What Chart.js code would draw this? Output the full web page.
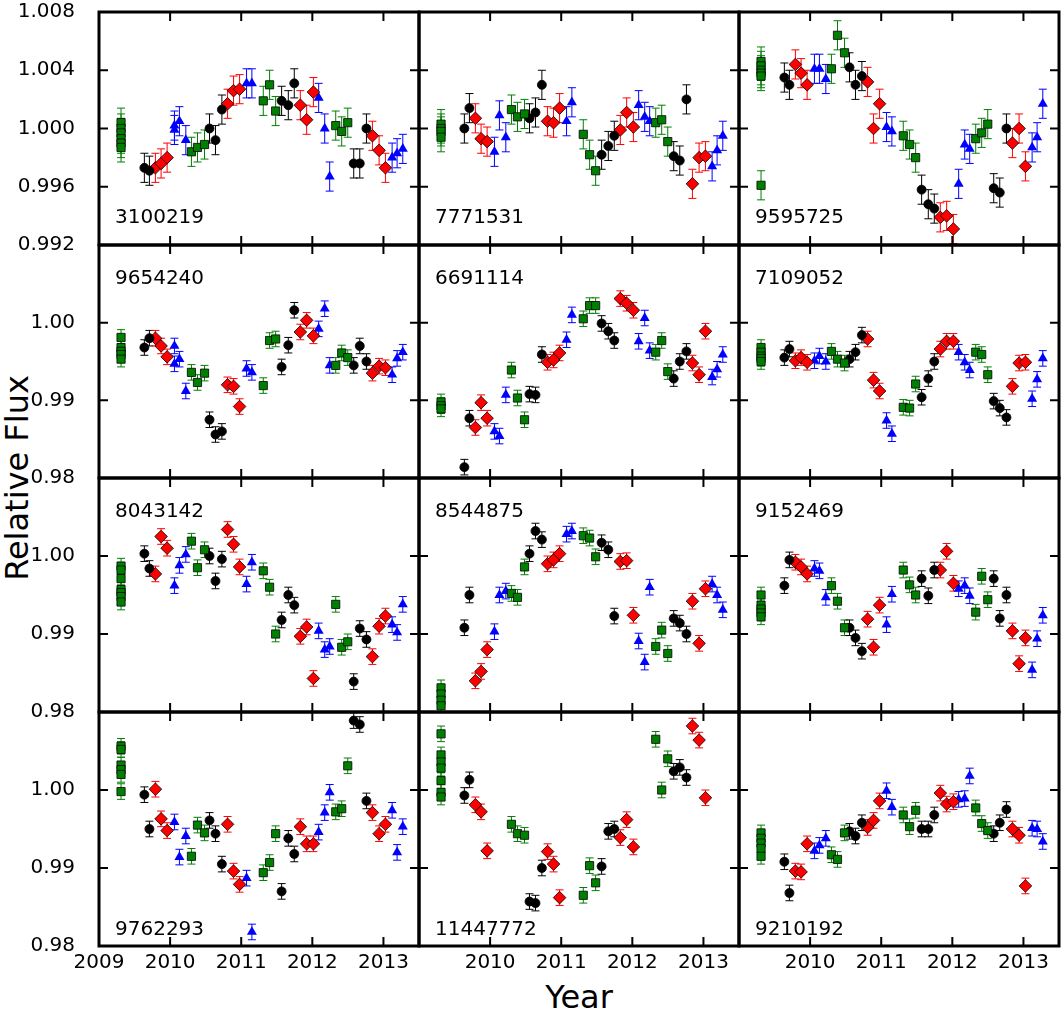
<!DOCTYPE html>
<html lang="en">
<head>
<meta charset="UTF-8">
<title>Relative flux, 12 stars</title>
<style>
  body { margin: 0; background: #fff; font-family: 'DejaVu Sans', sans-serif; }
  #fig { position: relative; width: 1062px; height: 1011px; overflow: hidden; background: #fff; }
  #fig canvas { position: absolute; }
  .axis-title { position: absolute; font-size: 32px; color: #000; white-space: nowrap; line-height: 1; }
  #ylab { left: 17px; top: 478px; transform: translate(-50%, -50%) rotate(-90deg); }
  #xlab { left: 579px; top: 997px; transform: translate(-50%, -50%); }
</style>
<script src="https://cdn.jsdelivr.net/npm/chart.js"></script>
</head>
<body>
<div id="fig">
  <div id="ylab" class="axis-title">Relative Flux</div>
  <div id="xlab" class="axis-title">Year</div>
</div>
<script>
// monthly points: time (year) and the quarter colour group they belong to
const monthTimes = [2009.638, 2009.709, 2009.793, 2009.873, 2009.958,
  2010.061, 2010.061, 2010.131, 2010.221, 2010.300, 2010.385, 2010.484,
  2010.554, 2010.638, 2010.728, 2010.808, 2010.892, 2010.977,
  2011.075, 2011.150, 2011.235, 2011.310, 2011.399, 2011.484,
  2011.568, 2011.662, 2011.746, 2011.831, 2011.920, 2012.015,
  2012.089, 2012.174, 2012.244, 2012.329, 2012.413, 2012.498,
  2012.582, 2012.667, 2012.761, 2012.845, 2012.939, 2013.028,
  2013.122, 2013.192, 2013.272];
const monthGroup = ['k','k', 'r','r','r', 'b','b','b','b', 'g','g','g',
  'k','k','k', 'r','r','r', 'b','b','b', 'g','g','g',
  'k','k','k', 'r','r','r', 'b','b','b', 'g','g','g',
  'k','k','k', 'r','r','r', 'b','b','b'];
const q1Time = 2009.31;
const fluxErr = 0.001;

const xTicks = [2009, 2010, 2011, 2012, 2013];
const yTicksTop = [0.992, 0.996, 1.000, 1.004, 1.008];
const yTicksLow = [0.98, 0.99, 1.00];

const panelIds = ['3100219', '7771531', '9595725', '9654240', '6691114', '7109052',
  '8043142', '8544875', '9152469', '9762293', '11447772', '9210192'];

// Q1 points (all at q1Time), then the 45 monthly values (null = no point)
const q3100219 = [1.0004, 1.0000, 0.9997, 0.9993, 0.9990, 0.9987];
const f3100219 = [0.9973, 0.9971, 0.9973, 0.9976, 0.9980, 1.0002, 0.9999, 1.0005, 0.9992,
  0.9984, 0.9987, 0.9989, 1.0000, 0.9992, 1.0013, 1.0017, 1.0026, 1.0027,
  1.0031, 1.0031, null, 1.0019, 1.0030, 1.0012, 1.0019, 1.0016, 1.0031,
  1.0016, 1.0006, 1.0025, 1.0021, 1.0000, 0.9967, 1.0002, 0.9998, 1.0004,
  0.9976, 0.9976, 1.0000, 0.9995, 0.9985, 0.9973, 0.9980, 0.9983, 0.9986];

const q7771531 = [1.0003, 1.0000, 0.9998, 0.9994];
const f7771531 = [1.0000, 1.0014, 1.0007, 0.9993, 0.9991, 0.9984, null, 1.0009, 0.9994,
  1.0013, 1.0008, 1.0010, 1.0007, 1.0011, 1.0030, 1.0005, 1.0004, 1.0014,
  1.0005, 1.0018, null, 0.9996, 0.9982, 0.9971, 0.9982, 0.9988, 0.9995,
  0.9999, 1.0011, 1.0001, 1.0016, 1.0008, 1.0005, 1.0004, 1.0006, 0.9991,
  0.9981, 0.9978, 1.0020, 0.9962, 0.9980, 0.9981, 0.9974, 0.9985, 0.9995];

const q9595725 = [1.0046, 1.0043, 1.0040, 1.0038, 1.0036, 0.9961];
const f9595725 = [1.0035, 1.0030, 1.0044, 1.0038, 1.0030, 1.0041, null, 1.0041, 1.0034,
  1.0041, 1.0064, 1.0052, 1.0042, 1.0030, 1.0036, 1.0032, 1.0000, 1.0017,
  1.0001, 0.9998, null, 0.9995, 0.9989, 0.9980, 0.9958, 0.9948, 0.9945,
  0.9939, 0.9940, 0.9931, 0.9962, 0.9989, 0.9986, 0.9993, 0.9997, 1.0003,
  0.9959, 0.9956, 1.0000, 0.9990, 1.0000, 0.9974, 0.9987, 0.9994, 1.0017];

const q9654240 = [0.9981, 0.9968, 0.9963, 0.9959, 0.9953];
const f9654240 = [0.9968, 0.9980, 0.9980, 0.9970, 0.9956, 0.9970, 0.9947, 0.9953, 0.9912,
  0.9936, 0.9923, 0.9935, 0.9875, 0.9856, 0.9860, 0.9920, 0.9918, 0.9892,
  0.9941, 0.9936, null, 0.9919, 0.9977, 0.9979, 0.9943, 0.9971, 1.0016,
  0.9988, 1.0003, 0.9983, 0.9992, 1.0018, 0.9945, 0.9945, 0.9961, 0.9955,
  0.9945, 0.9970, 0.9950, 0.9935, 0.9944, 0.9942, 0.9933, 0.9954, 0.9962];

const q6691114 = [0.9898, 0.9893, 0.9889];
const f6691114 = [0.9814, 0.9877, 0.9865, 0.9897, 0.9877, 0.9860, null, 0.9854, 0.9907,
  0.9939, 0.9903, 0.9875, 0.9908, 0.9907, 0.9959, 0.9949, 0.9952, 0.9961,
  0.9978, 1.0010, null, 1.0005, 1.0022, 1.0022, 0.9999, 0.9989, 0.9977,
  1.0031, 1.0025, 1.0016, 0.9976, 1.0006, 0.9964, 0.9962, 0.9977, 0.9937,
  0.9928, 0.9950, 0.9963, 0.9948, 0.9933, 0.9989, 0.9930, 0.9940, 0.9959];

const q7109052 = [0.9968, 0.9962, 0.9957, 0.9954, 0.9950];
const f7109052 = [0.9955, 0.9966, 0.9951, 0.9955, 0.9949, 0.9951, null, 0.9957, 0.9950,
  0.9963, 0.9953, 0.9948, 0.9953, 0.9962, 0.9984, 0.9979, 0.9926, 0.9912,
  0.9874, 0.9857, null, 0.9891, 0.9890, 0.9921, 0.9904, 0.9928, 0.9950,
  0.9966, 0.9976, 0.9976, 0.9962, 0.9949, 0.9939, 0.9962, 0.9959, 0.9933,
  0.9899, 0.9890, 0.9878, 0.9918, 0.9948, 0.9949, 0.9902, 0.9927, 0.9954];

const q8043142 = [0.9987, 0.9982, 0.9971, 0.9957, 0.9953, 0.9948, 0.9941];
const f8043142 = [1.0003, 0.9984, 0.9977, 1.0025, 1.0010, 0.9962, null, 0.9988, 1.0002,
  1.0019, 0.9985, 1.0008, 1.0000, 0.9968, 0.9996, 1.0034, 1.0015, 0.9986,
  0.9964, 0.9992, null, 0.9981, 0.9960, 0.9900, 0.9918, 0.9950, 0.9937,
  0.9897, 0.9909, 0.9843, 0.9904, 0.9880, 0.9884, 0.9938, 0.9883, 0.9890,
  0.9839, 0.9907, 0.9893, 0.9871, 0.9910, 0.9923, 0.9912, 0.9902, 0.9938];

const q8544875 = [0.9831, 0.9823, 0.9815, 0.9808];
const f8544875 = [0.9908, 0.9950, 0.9840, 0.9852, 0.9880, 0.9903, null, 0.9950, 0.9955,
  0.9952, 0.9947, 0.9986, 1.0003, 1.0032, 1.0021, 0.9990, 0.9995, 1.0003,
  1.0028, 1.0032, null, 1.0026, 1.0023, 0.9999, 1.0017, 1.0008, 0.9923,
  0.9993, 0.9994, 0.9924, 0.9891, 0.9864, 0.9960, 0.9884, 0.9905, 0.9875,
  0.9920, 0.9914, 0.9900, 0.9942, 0.9888, 0.9958, 0.9964, 0.9950, 0.9931];

const q9152469 = [0.9950, 0.9937, 0.9932, 0.9927, 0.9922];
const f9152469 = [0.9962, 0.9995, 0.9992, 0.9986, 0.9977, 0.9984, null, 0.9981, 0.9947,
  0.9962, 0.9942, 0.9908, 0.9908, 0.9895, 0.9878, 0.9919, 0.9883, 0.9937,
  0.9912, 0.9951, null, 0.9982, 0.9963, 0.9950, 0.9971, 0.9949, 0.9982,
  0.9982, 1.0006, 0.9965, 0.9958, 0.9962, 0.9949, 0.9928, 0.9974, 0.9944,
  0.9971, 0.9920, 0.9950, 0.9904, 0.9862, 0.9895, 0.9854, 0.9894, 0.9924];

const q9762293 = [1.0056, 1.0052, 1.0032, 1.0026, 1.0020, 0.9998];
const f9762293 = [0.9994, 0.9950, 1.0001, 0.9963, 0.9948, 0.9959, null, 0.9914, 0.9941,
  0.9915, 0.9955, 0.9945, 0.9961, 0.9944, 0.9905, 0.9956, 0.9896, 0.9879,
  0.9887, 0.9818, null, 0.9894, 0.9907, 0.9944, 0.9870, 0.9938, 0.9918,
  0.9953, 0.9931, 0.9931, 0.9946, 0.9971, 0.9997, 0.9972, 0.9976, 1.0031,
  1.0089, 1.0084, 0.9986, 0.9971, 0.9944, 0.9956, 0.9974, 0.9920, 0.9953];

const q11447772 = [1.0072, 1.0045, 1.0036, 1.0028, 1.0012, 0.9997, 0.9991];
const f11447772 = [0.9993, 1.0013, 0.9981, 0.9972, 0.9922, null, null, null, null,
  0.9956, 0.9944, 0.9942, 0.9857, 0.9855, 0.9900, 0.9921, 0.9905, 0.9862,
  null, null, null, 0.9865, 0.9903, 0.9881, 0.9902, 0.9947, 0.9950,
  0.9939, 0.9962, 0.9927, null, null, null, 1.0065, 1.0000, 1.0040,
  1.0024, 1.0029, 1.0016, 1.0082, 1.0064, 0.9990, null, null, null];

const q9210192 = [0.9945, 0.9938, 0.9932, 0.9925, 0.9915];
const f9210192 = [0.9908, 0.9868, 0.9896, 0.9895, 0.9931, 0.9922, null, 0.9929, 0.9938,
  0.9917, 0.9911, 0.9945, 0.9947, 0.9941, 0.9958, 0.9952, 0.9961, 0.9986,
  0.9999, 0.9978, null, 0.9968, 0.9953, 0.9974, 0.9950, 0.9950, 0.9968,
  0.9996, 0.9982, 0.9985, 0.9988, 0.9989, 1.0018, 0.9977, 0.9957, 0.9948,
  0.9944, 0.9958, 0.9975, 0.9950, 0.9942, 0.9877, 0.9951, 0.9950, 0.9934];

const panelQ1 = [q3100219, q7771531, q9595725, q9654240, q6691114, q7109052,
  q8043142, q8544875, q9152469, q9762293, q11447772, q9210192];
const panelFlux = [f3100219, f7771531, f9595725, f9654240, f6691114, f7109052,
  f8043142, f8544875, f9152469, f9762293, f11447772, f9210192];

// ---- look ----
Chart.defaults.font.family = "'DejaVu Sans', sans-serif";
Chart.defaults.color = '#000';

const groupStyle = {
  g: { color: '#008000', shape: 'rect', radius: 5.8, edge: '#000', edgeW: 0.8 },
  k: { color: '#000000', shape: 'circle', radius: 4.5, edge: '#000', edgeW: 0.8 },
  r: { color: '#ff0000', shape: 'rectRot', radius: 6.3, edge: '#000', edgeW: 0.8 },
  b: { color: '#0000ff', shape: 'triangle', radius: 5.8, edge: '#0000ff', edgeW: 0 }
};
const drawOrder = ['g', 'k', 'r', 'b'];

const PAD = 14, AXW = 99, AXH = 56, TICK = 9, CAP = 4;
const colLeft = [99, 419, 739], colW = 320;
const rowTop = [12, 245, 478, 712], rowH = [233, 233, 234, 234];

function seriesPoints(flux, q1, grp) {
  const pts = [];
  if (grp === 'g') q1.forEach(v => pts.push({ x: q1Time, y: v }));
  flux.forEach((v, k) => {
    if (v !== null && monthGroup[k] === grp) pts.push({ x: monthTimes[k], y: v });
  });
  return pts;
}

// error bars under the markers
const errorBars = {
  id: 'errorBars',
  beforeDatasetsDraw(chart) {
    const { ctx, chartArea: a, scales: { x, y } } = chart;
    ctx.save();
    ctx.beginPath();
    ctx.rect(a.left, a.top, a.right - a.left, a.bottom - a.top);
    ctx.clip();
    ctx.lineWidth = 1;
    chart.data.datasets.forEach(ds => {
      ctx.strokeStyle = ds.errColor;
      ctx.beginPath();
      ds.data.forEach(pt => {
        const px = x.getPixelForValue(pt.x);
        const y1 = y.getPixelForValue(pt.y + fluxErr);
        const y2 = y.getPixelForValue(pt.y - fluxErr);
        ctx.moveTo(px, y1); ctx.lineTo(px, y2);
        ctx.moveTo(px - CAP, y1); ctx.lineTo(px + CAP, y1);
        ctx.moveTo(px - CAP, y2); ctx.lineTo(px + CAP, y2);
      });
      ctx.stroke();
    });
    ctx.restore();
  }
};

// box, inward ticks on all sides, star id
const frame = {
  id: 'frame',
  afterDraw(chart, args, opts) {
    const { ctx, chartArea: a, scales: { x, y } } = chart;
    ctx.save();
    ctx.strokeStyle = '#000';
    ctx.lineWidth = 2;
    ctx.beginPath();
    xTicks.forEach(v => {
      const px = x.getPixelForValue(v);
      ctx.moveTo(px, a.top); ctx.lineTo(px, a.top + TICK);
      ctx.moveTo(px, a.bottom); ctx.lineTo(px, a.bottom - TICK);
    });
    opts.yTicks.forEach(v => {
      const py = y.getPixelForValue(v);
      ctx.moveTo(a.left, py); ctx.lineTo(a.left + TICK, py);
      ctx.moveTo(a.right, py); ctx.lineTo(a.right - TICK, py);
    });
    ctx.stroke();
    ctx.lineWidth = 3;
    ctx.strokeRect(a.left, a.top, a.right - a.left, a.bottom - a.top);
    ctx.fillStyle = '#000';
    ctx.font = "20px 'DejaVu Sans'";
    ctx.textBaseline = 'alphabetic';
    ctx.textAlign = 'left';
    const ty = opts.labelTop ? a.top + 39 : a.bottom - opts.labelGap;
    ctx.fillText(opts.id, a.left + 16, ty);
    ctx.restore();
  }
};

const fig = document.getElementById('fig');

panelIds.forEach((id, i) => {
  const r = Math.floor(i / 3), c = i % 3;
  const showX = r === 3, showY = c === 0;
  const leftSpace = showY ? AXW : PAD;
  const bottomSpace = showX ? AXH : PAD;
  const w = leftSpace + colW + PAD;
  const h = PAD + rowH[r] + bottomSpace;
  const cv = document.createElement('canvas');
  cv.width = w; cv.height = h;
  cv.style.left = (colLeft[c] - leftSpace) + 'px';
  cv.style.top = (rowTop[r] - PAD) + 'px';
  cv.style.width = w + 'px';
  cv.style.height = h + 'px';
  fig.appendChild(cv);

  const yTicks = r === 0 ? yTicksTop : yTicksLow;
  const yDec = r === 0 ? 3 : 2;

  const datasets = drawOrder.map(g => {
    const s = groupStyle[g];
    return {
      data: seriesPoints(panelFlux[i], panelQ1[i], g),
      errColor: s.color,
      backgroundColor: s.color,
      borderColor: s.edge,
      borderWidth: s.edgeW,
      pointStyle: s.shape,
      pointRadius: s.radius,
      pointHoverRadius: s.radius
    };
  });

  new Chart(cv, {
    type: 'scatter',
    data: { datasets },
    options: {
      responsive: false,
      animation: false,
      events: [],
      layout: { padding: { left: showY ? 0 : PAD, right: PAD, top: PAD, bottom: showX ? 0 : PAD } },
      plugins: {
        legend: { display: false },
        tooltip: { enabled: false },
        frame: { id, yTicks, labelTop: r === 1 || r === 2, labelGap: r === 0 ? 22 : 11 }
      },
      scales: {
        x: {
          type: 'linear', min: 2009, max: 2013.5,
          display: showX,
          grid: { display: false, drawTicks: false },
          border: { display: false },
          afterBuildTicks: s => { s.ticks = xTicks.map(v => ({ value: v })); },
          afterFit: s => {
            if (!showX) return;
            s.height = AXH;
            s.paddingLeft = 0; s.paddingRight = 0;
          },
          ticks: {
            autoSkip: false, maxRotation: 0, padding: 5,
            font: { size: 20 },
            callback: v => (c > 0 && v === 2009) ? '' : String(v)
          }
        },
        y: {
          type: 'linear',
          min: r === 0 ? 0.992 : 0.98,
          max: r === 0 ? 1.008 : 1.01,
          display: showY,
          grid: { display: false, drawTicks: false },
          border: { display: false },
          afterBuildTicks: s => { s.ticks = yTicks.map(v => ({ value: v })); },
          afterFit: s => {
            if (!showY) return;
            s.width = AXW;
            s.paddingTop = 0; s.paddingBottom = 0;
          },
          ticks: {
            padding: 24,
            font: { size: 20 },
            callback: v => v.toFixed(yDec)
          }
        }
      }
    },
    plugins: [errorBars, frame]
  });
});
</script>
</body>
</html>
